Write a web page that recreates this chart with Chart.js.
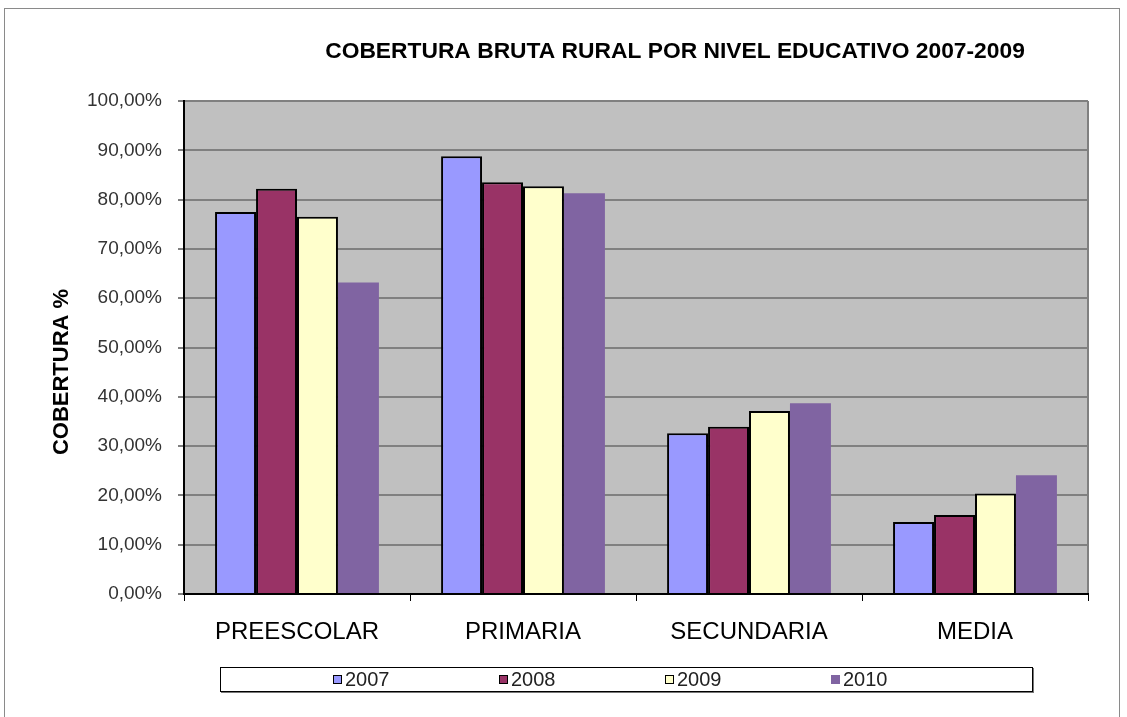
<!DOCTYPE html>
<html lang="es">
<head>
  <meta charset="UTF-8">
  <title>Cobertura bruta rural</title>
  <script src="https://cdn.jsdelivr.net/npm/chart.js"></script>
  <style>
    body, html {
      margin: 0;
      background: white;
      font-family: 'Liberation Sans', Arial, sans-serif;
      overflow: hidden;
    }
    .wrap {
      position: relative;
      width: 1127px;
      height: 717px;
    }
    .frame {
      position: absolute;
      left: 4px;
      top: 8px;
      width: 1114px;
      height: 730px;
      border: 1px solid #8a8a8a;
    }
    canvas {
      position: absolute;
      left: 0;
      top: 0;
    }
    .legend {
      position: absolute;
      left: 220px;
      top: 667px;
      width: 813px;
      height: 25px;
      border: 1px solid #000;
      box-shadow: 1px 1px 0 #777;
      background: white;
      display: flex;
      align-items: center;
      padding-left: 112px;
      box-sizing: border-box;
    }
    .legend .item {
      width: 166px;
      display: flex;
      align-items: center;
      font-size: 20px;
      color: #222;
    }
    .legend .box {
      width: 9px;
      height: 9px;
      margin-right: 3px;
      box-sizing: border-box;
    }
  </style>
</head>
<body>
  <div class="wrap">
    <div class="frame"></div>
    <canvas id="chart" width="1127" height="717"></canvas>
    <div class="legend" id="legend"></div>
  </div>

  <script>
    const title = "COBERTURA BRUTA RURAL POR NIVEL EDUCATIVO 2007-2009";
    const yTitle = "COBERTURA %";
    const categories = ["PREESCOLAR", "PRIMARIA", "SECUNDARIA", "MEDIA"];
    const years = ["2007", "2008", "2009", "2010"];
    const v2007 = [77.5, 88.8, 32.6, 14.6];
    const v2008 = [82.2, 83.5, 33.9, 16.0];
    const v2009 = [76.5, 82.7, 37.1, 20.4];
    const v2010 = [63.2, 81.3, 38.7, 24.1];
    const colors = ["#9999ff", "#993366", "#ffffcc", "#8064a2"];
    const borders = [2, 2, 2, 0];

    const series = [v2007, v2008, v2009, v2010];

    // gray plot area + right edge, titles on top
    const plotBg = {
      id: "plotBg",
      beforeDraw(chart) {
        const a = chart.chartArea, ctx = chart.ctx;
        ctx.save();
        ctx.fillStyle = "#c0c0c0";
        ctx.fillRect(a.left, a.top, a.right - a.left, a.bottom - a.top);
        ctx.strokeStyle = "#808080";
        ctx.lineWidth = 2;
        ctx.beginPath();
        ctx.moveTo(a.right, a.top);
        ctx.lineTo(a.right, a.bottom);
        ctx.stroke();
        ctx.restore();
      },
      afterDraw(chart) {
        const ctx = chart.ctx;
        ctx.save();
        ctx.fillStyle = "#000";
        ctx.font = "bold 22.8px 'Liberation Sans', Arial, sans-serif";
        ctx.textAlign = "center";
        ctx.textBaseline = "middle";
        ctx.fillText(title, 675, 52);
        ctx.font = "bold 22px 'Liberation Sans', Arial, sans-serif";
        ctx.translate(62, 372);
        ctx.rotate(-Math.PI / 2);
        ctx.fillText(yTitle, 0, 0);
        ctx.restore();
      }
    };

    new Chart(document.getElementById("chart"), {
      type: "bar",
      data: {
        labels: categories,
        datasets: years.map((y, i) => ({
          label: y,
          data: series[i],
          backgroundColor: colors[i],
          borderColor: "#000",
          borderWidth: borders[i],
          barPercentage: 1,
          categoryPercentage: 0.725
        }))
      },
      options: {
        responsive: false,
        animation: false,
        layout: { padding: { left: 10, right: 39, top: 101, bottom: 63 } },
        plugins: {
          legend: { display: false },
          tooltip: { enabled: false }
        },
        scales: {
          x: {
            afterFit(scale) { scale.height = 60; },
            grid: {
              offset: true,
              drawOnChartArea: false,
              tickLength: 7,
              tickColor: "#000",
              tickWidth: 1
            },
            border: { color: "#000", width: 2 },
            ticks: {
              color: "#000",
              padding: 17,
              font: { family: "'Liberation Sans', Arial, sans-serif", size: 24 }
            }
          },
          y: {
            min: 0,
            max: 100,
            afterFit(scale) { scale.width = 174; },
            grid: {
              color: "#808080",
              lineWidth: 2,
              tickLength: 6,
              tickColor: "#000",
              tickWidth: 1
            },
            border: { color: "#000", width: 2 },
            ticks: {
              stepSize: 10,
              color: "#333",
              padding: 16,
              font: { family: "'Liberation Sans', Arial, sans-serif", size: 19 },
              callback: v => v.toFixed(2).replace(".", ",") + "%"
            }
          }
        }
      },
      plugins: [plotBg]
    });

    // legend built from the same arrays
    const legend = document.getElementById("legend");
    years.forEach((y, i) => {
      const item = document.createElement("div");
      item.className = "item";
      const box = document.createElement("span");
      box.className = "box";
      box.style.background = colors[i];
      if (borders[i]) box.style.border = "1px solid #000";
      item.appendChild(box);
      item.appendChild(document.createTextNode(y));
      legend.appendChild(item);
    });
  </script>
</body>
</html>
